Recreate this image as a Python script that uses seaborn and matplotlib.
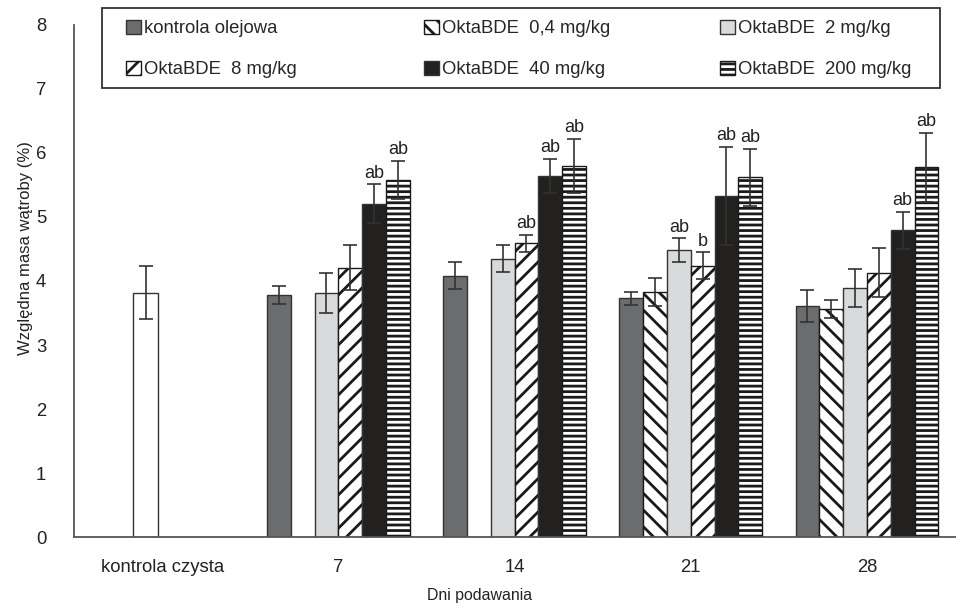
import matplotlib
matplotlib.use("Agg")
import matplotlib.pyplot as plt
from matplotlib.patches import Rectangle
import seaborn as sns
import pandas as pd
import numpy as np

# Dane
dni = ["7", "14", "21", "28"]
kolejnosc = ["kontrola czysta"] + dni
grupy = ["kontrola olejowa", "OktaBDE  0,4 mg/kg", "OktaBDE  2 mg/kg",
         "OktaBDE  8 mg/kg", "OktaBDE  40 mg/kg", "OktaBDE  200 mg/kg"]

# kontrola czysta (jeden słupek)
czysta_srednia = 3.82
czysta_sd = 0.42

# średnie dla kolejnych dni (NaN = brak grupy)
sr_olej = [3.78, 4.08, 3.73, 3.61]
sr_04 = [np.nan, np.nan, 3.83, 3.56]
sr_2 = [3.81, 4.35, 4.48, 3.89]
sr_8 = [4.21, 4.59, 4.24, 4.13]
sr_40 = [5.21, 5.64, 5.33, 4.79]
sr_200 = [5.58, 5.80, 5.62, 5.78]

# odchylenia
sd_olej = [0.14, 0.21, 0.10, 0.25]
sd_04 = [np.nan, np.nan, 0.22, 0.14]
sd_2 = [0.31, 0.21, 0.19, 0.29]
sd_8 = [0.35, 0.13, 0.21, 0.38]
sd_40 = [0.30, 0.27, 0.77, 0.29]
sd_200 = [0.30, 0.42, 0.45, 0.54]

# litery istotności
lit_olej = ["", "", "", ""]
lit_04 = ["", "", "", ""]
lit_2 = ["", "", "ab", ""]
lit_8 = ["", "ab", "b", ""]
lit_40 = ["ab", "ab", "ab", "ab"]
lit_200 = ["ab", "ab", "ab", "ab"]

srednie = [sr_olej, sr_04, sr_2, sr_8, sr_40, sr_200]
odch = [sd_olej, sd_04, sd_2, sd_8, sd_40, sd_200]
litery = [lit_olej, lit_04, lit_2, lit_8, lit_40, lit_200]

wiersze = []
for g, sr, sd, lit in zip(grupy, srednie, odch, litery):
    for d, m, s, l in zip(dni, sr, sd, lit):
        if not np.isnan(m):
            wiersze.append({"dzien": d, "grupa": g, "masa": m, "sd": s, "lit": l})
datos = pd.DataFrame(wiersze)

kolory = {grupy[0]: "#6b6c6e", grupy[1]: "white", grupy[2]: "#d9dadc",
          grupy[3]: "white", grupy[4]: "#231f20", grupy[5]: "white"}
wzory = ["", "\\\\", "", "//", "", "---"]

sns.set_style("white")
plt.rcParams["font.family"] = ["Liberation Sans", "DejaVu Sans"]
plt.rcParams["hatch.linewidth"] = 2.0
plt.rcParams["hatch.color"] = "black"

fig = plt.figure(figsize=(9.56, 6.11), dpi=100)
ax = fig.add_axes([0.0774, 0.1211, 0.9216, 0.8380])

szer = 0.81
sns.barplot(data=datos, x="dzien", y="masa", hue="grupa", order=kolejnosc,
            hue_order=grupy, palette=kolory, width=szer, errorbar=None,
            edgecolor="#333333", linewidth=1.0, legend=False, ax=ax)

for cont, w in zip(ax.containers, wzory):
    for p in cont:
        p.set_hatch(w)
        if w:
            p.set_edgecolor("#1a1a1a")

# słupek kontroli czystej
ax.bar(-0.094, czysta_srednia, width=0.14, color="white",
       edgecolor="#333333", linewidth=1.0)
ax.errorbar(-0.094, czysta_srednia, yerr=czysta_sd, fmt="none",
            ecolor="#333333", elinewidth=1.2, capsize=5, capthick=1.2)

# słupki błędów i litery
krok = szer / len(grupy)
for _, r in datos.iterrows():
    i = kolejnosc.index(r["dzien"])
    h = grupy.index(r["grupa"])
    x = i + (h - (len(grupy) - 1) / 2) * krok
    ax.errorbar(x, r["masa"], yerr=r["sd"], fmt="none", ecolor="#333333",
                elinewidth=1.2, capsize=5, capthick=1.2, zorder=5)
    if r["lit"]:
        ax.text(x, r["masa"] + r["sd"] + 0.04, r["lit"], ha="center",
                va="bottom", fontsize=13, color="#222222")

ax.set_ylim(0, 8)
ax.set_xlim(-0.5, 4.5)
ax.set_yticks(range(0, 9))
ax.set_xticks(range(len(kolejnosc)))
ax.set_xticklabels(kolejnosc)
ax.set_xticks([-0.5, 0.5, 1.5, 2.5, 3.5], minor=True)
ax.tick_params(axis="x", which="major", length=0, pad=16, labelsize=13.3,
               colors="#222222")
ax.tick_params(axis="x", which="minor", length=6, width=1.2, color="#555555",
               direction="out")
ax.tick_params(axis="y", length=6, width=1.2, color="#555555", direction="out",
               pad=14, labelsize=13.3, labelcolor="#222222")
sns.despine(ax=ax)
for s in ["left", "bottom"]:
    ax.spines[s].set_color("#555555")
    ax.spines[s].set_linewidth(1.3)

ax.set_xlabel("Dni podawania", fontsize=11.4, color="#222222")
ax.xaxis.set_label_coords(0.46, -0.10)
ax.set_ylabel("Względna masa wątroby (%)", fontsize=12, color="#222222")
ax.yaxis.set_label_coords(-0.047, 0.564)

# legenda: ramka + trzy kolumny po dwa wpisy
fig.add_artist(Rectangle((102 / 956, 1 - 88 / 611), 838 / 956, 80 / 611,
                         transform=fig.transFigure, facecolor="white",
                         edgecolor="#333333", linewidth=1.3, zorder=3))
kolumny = [[0, 3], [1, 4], [2, 5]]
x_kol = [126 / 956, 424 / 956, 720 / 956]
for idx, xk in zip(kolumny, x_kol):
    fig.legend([ax.containers[k] for k in idx], [grupy[k] for k in idx],
               loc="center left", bbox_to_anchor=(xk, 1 - 49 / 611),
               frameon=False, fontsize=13.3, handlelength=0.8,
               handleheight=0.8, handletextpad=0.2, labelspacing=1.25,
               borderpad=0, borderaxespad=0)

fig.savefig("out.png", dpi=100)
